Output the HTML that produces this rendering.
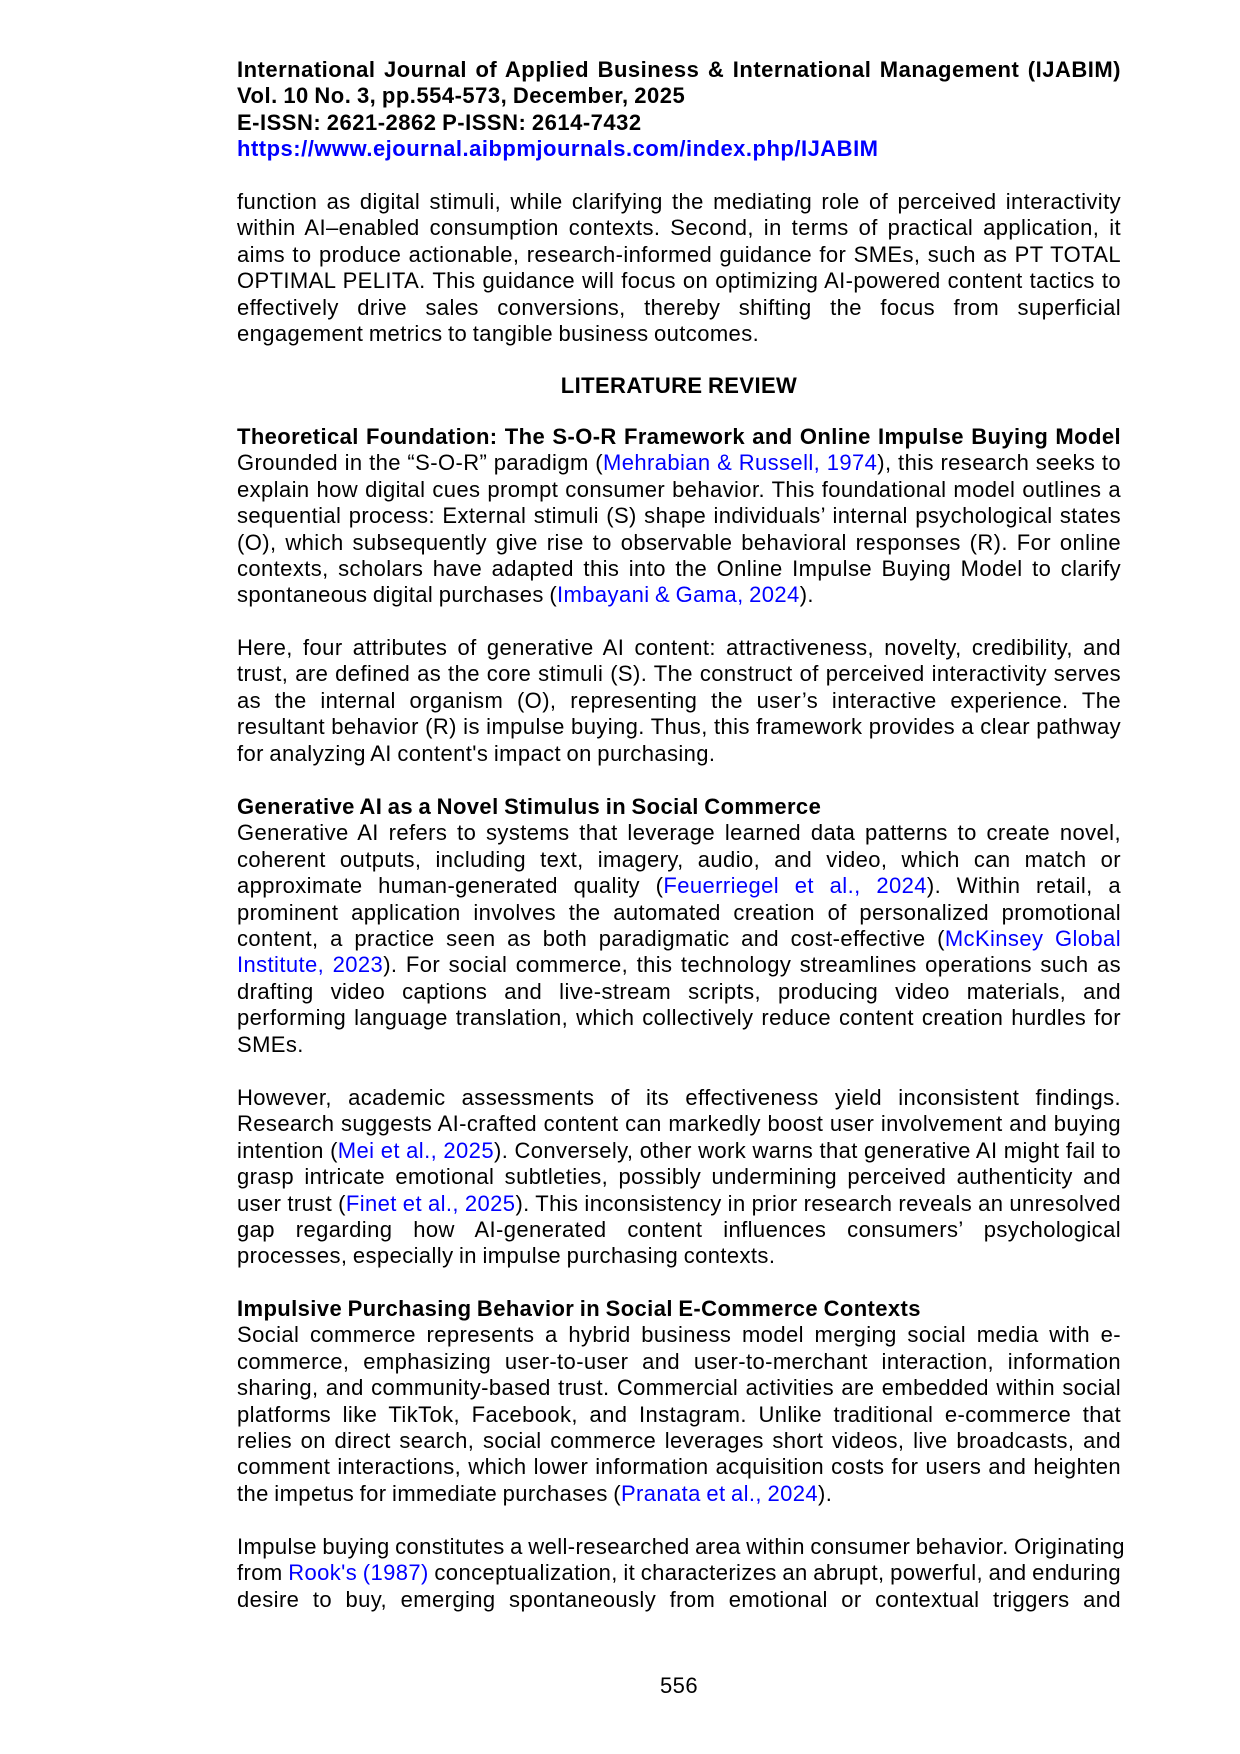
<!DOCTYPE html>
<html><head><meta charset="utf-8"><style>
html,body{margin:0;padding:0;background:#fff;}
body{width:1240px;height:1754px;position:relative;overflow:hidden;font-family:"Liberation Sans",Arial,sans-serif;color:#000;}
.blk{position:absolute;left:237px;width:884px;font-size:22px;letter-spacing:0.4px;word-spacing:-1px;}
.l{height:26.4px;line-height:26.4px;text-align:justify;text-align-last:justify;white-space:nowrap;}
.e{text-align-last:left;}
.b{font-weight:bold;}
a{color:#0000ff;text-decoration:none;}
.hd{font-weight:bold;letter-spacing:0.5px;}
</style></head><body>
<div class="blk hd" style="top:57px">
<div class="l">International Journal of Applied Business &amp; International Management (IJABIM)</div>
<div class="l e">Vol. 10 No. 3, pp.554-573, December, 2025</div>
<div class="l e">E-ISSN: 2621-2862 P-ISSN: 2614-7432</div>
<div class="l e"><a>https://www.ejournal.aibpmjournals.com/index.php/IJABIM</a></div>
</div>

<div class="blk" style="top:189px">
<div class="l">function as digital stimuli, while clarifying the mediating role of perceived interactivity</div>
<div class="l">within AI–enabled consumption contexts. Second, in terms of practical application, it</div>
<div class="l">aims to produce actionable, research-informed guidance for SMEs, such as PT TOTAL</div>
<div class="l">OPTIMAL PELITA. This guidance will focus on optimizing AI-powered content tactics to</div>
<div class="l">effectively drive sales conversions, thereby shifting the focus from superficial</div>
<div class="l e">engagement metrics to tangible business outcomes.</div>
</div>

<div class="blk b" style="top:373px;text-align:center"><div style="height:26.4px;line-height:26.4px">LITERATURE REVIEW</div></div>

<div class="blk" style="top:424px">
<div class="l b">Theoretical Foundation: The S-O-R Framework and Online Impulse Buying Model</div>
<div class="l">Grounded in the “S-O-R” paradigm (<a>Mehrabian &amp; Russell, 1974</a>), this research seeks to</div>
<div class="l">explain how digital cues prompt consumer behavior. This foundational model outlines a</div>
<div class="l">sequential process: External stimuli (S) shape individuals’ internal psychological states</div>
<div class="l">(O), which subsequently give rise to observable behavioral responses (R). For online</div>
<div class="l">contexts, scholars have adapted this into the Online Impulse Buying Model to clarify</div>
<div class="l e">spontaneous digital purchases (<a>Imbayani &amp; Gama, 2024</a>).</div>
</div>

<div class="blk" style="top:635px">
<div class="l">Here, four attributes of generative AI content: attractiveness, novelty, credibility, and</div>
<div class="l">trust, are defined as the core stimuli (S). The construct of perceived interactivity serves</div>
<div class="l">as the internal organism (O), representing the user’s interactive experience. The</div>
<div class="l">resultant behavior (R) is impulse buying. Thus, this framework provides a clear pathway</div>
<div class="l e">for analyzing AI content's impact on purchasing.</div>
</div>

<div class="blk" style="top:794px">
<div class="l b e">Generative AI as a Novel Stimulus in Social Commerce</div>
<div class="l">Generative AI refers to systems that leverage learned data patterns to create novel,</div>
<div class="l">coherent outputs, including text, imagery, audio, and video, which can match or</div>
<div class="l">approximate human-generated quality (<a>Feuerriegel et al., 2024</a>). Within retail, a</div>
<div class="l">prominent application involves the automated creation of personalized promotional</div>
<div class="l">content, a practice seen as both paradigmatic and cost-effective (<a>McKinsey Global</a></div>
<div class="l"><a>Institute, 2023</a>). For social commerce, this technology streamlines operations such as</div>
<div class="l">drafting video captions and live-stream scripts, producing video materials, and</div>
<div class="l">performing language translation, which collectively reduce content creation hurdles for</div>
<div class="l e">SMEs.</div>
</div>

<div class="blk" style="top:1085px">
<div class="l">However, academic assessments of its effectiveness yield inconsistent findings.</div>
<div class="l">Research suggests AI-crafted content can markedly boost user involvement and buying</div>
<div class="l">intention (<a>Mei et al., 2025</a>). Conversely, other work warns that generative AI might fail to</div>
<div class="l">grasp intricate emotional subtleties, possibly undermining perceived authenticity and</div>
<div class="l">user trust (<a>Finet et al., 2025</a>). This inconsistency in prior research reveals an unresolved</div>
<div class="l">gap regarding how AI-generated content influences consumers’ psychological</div>
<div class="l e">processes, especially in impulse purchasing contexts.</div>
</div>

<div class="blk" style="top:1296px">
<div class="l b e">Impulsive Purchasing Behavior in Social E-Commerce Contexts</div>
<div class="l">Social commerce represents a hybrid business model merging social media with e-</div>
<div class="l">commerce, emphasizing user-to-user and user-to-merchant interaction, information</div>
<div class="l">sharing, and community-based trust. Commercial activities are embedded within social</div>
<div class="l">platforms like TikTok, Facebook, and Instagram. Unlike traditional e-commerce that</div>
<div class="l">relies on direct search, social commerce leverages short videos, live broadcasts, and</div>
<div class="l">comment interactions, which lower information acquisition costs for users and heighten</div>
<div class="l e">the impetus for immediate purchases (<a>Pranata et al., 2024</a>).</div>
</div>

<div class="blk" style="top:1534px">
<div class="l">Impulse buying constitutes a well-researched area within consumer behavior. Originating</div>
<div class="l">from <a>Rook's (1987)</a> conceptualization, it characterizes an abrupt, powerful, and enduring</div>
<div class="l">desire to buy, emerging spontaneously from emotional or contextual triggers and</div>
</div>

<div class="blk" style="top:1673px;text-align:center"><div style="height:26.4px;line-height:26.4px">556</div></div>
</body></html>
